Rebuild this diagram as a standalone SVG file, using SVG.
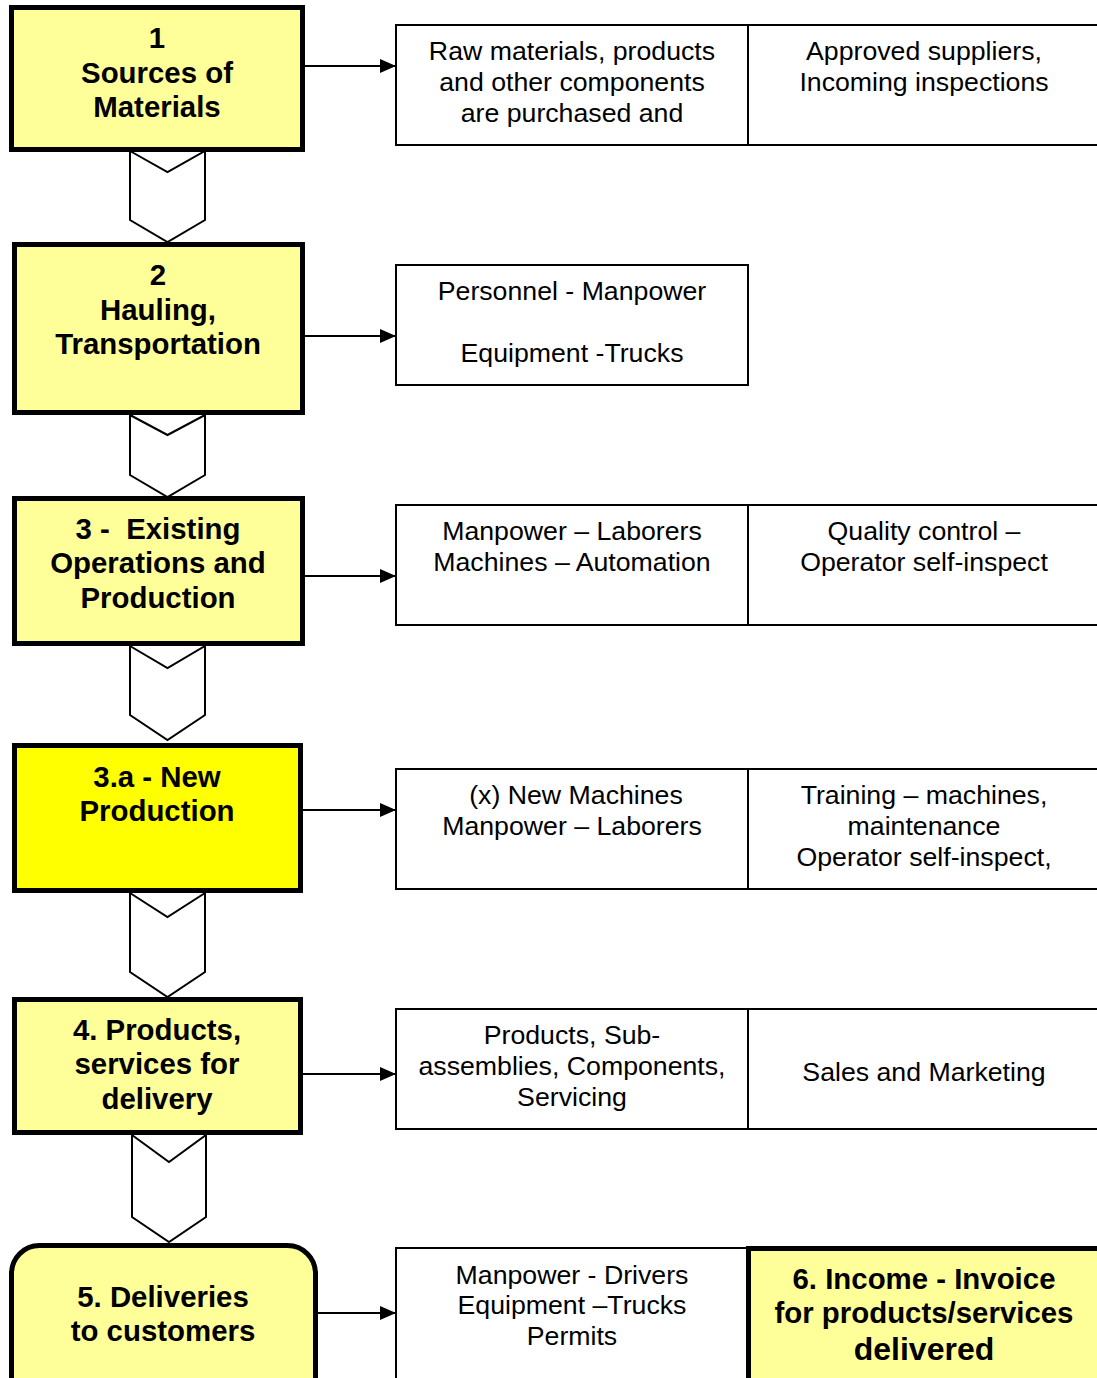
<svg xmlns="http://www.w3.org/2000/svg" width="1097" height="1378" viewBox="0 0 1097 1378">
<style>
.node{fill:#FFFF99;stroke:#000;stroke-width:5}
.hot{fill:#FFFF00}
.box{fill:#fff;stroke:#000;stroke-width:2}
.chev{fill:#fff;stroke:#000;stroke-width:2;stroke-linejoin:miter}
.lbl{font-family:"Liberation Sans",Arial,sans-serif;font-weight:bold;font-size:29.4px;text-anchor:middle;fill:#000}
.txt{font-family:"Liberation Sans",Arial,sans-serif;font-size:26.7px;text-anchor:middle;fill:#000}
.arr{stroke:#000;stroke-width:2;fill:none;marker-end:url(#ah)}
</style>
<defs>
<marker id="ah" markerWidth="16" markerHeight="14" refX="16" refY="7" orient="auto" markerUnits="userSpaceOnUse">
<path d="M0,0 L16,7 L0,14 Z" fill="#000"/>
</marker>
</defs>
<rect width="1097" height="1378" fill="#fff"/>

<g id="connectors">
<path class="chev" d="M130,151 L167.5,172 L205,151 L205,220 L167.5,242 L130,220 Z"/>
<path class="chev" d="M130,415 L167.5,435 L205,415 L205,475 L167.5,497 L130,475 Z"/>
<path class="chev" d="M130,646 L167.5,668 L205,646 L205,715 L167.5,740 L130,715 Z"/>
<path class="chev" d="M130,893 L167.5,917 L205,893 L205,972 L167.5,997 L130,972 Z"/>
<path class="chev" d="M132,1135 L169,1162 L206,1135 L206,1217 L169,1242 L132,1217 Z"/>
<line class="arr" x1="305" y1="66" x2="396" y2="66"/>
<line class="arr" x1="305" y1="336" x2="396" y2="336"/>
<line class="arr" x1="305" y1="576" x2="396" y2="576"/>
<line class="arr" x1="303" y1="810" x2="396" y2="810"/>
<line class="arr" x1="303" y1="1074" x2="396" y2="1074"/>
<line class="arr" x1="318" y1="1313" x2="396" y2="1313"/>
</g>

<g id="node1">
<rect class="node" x="11.5" y="7.5" width="291" height="142"/>
<text class="lbl" x="157" y="48">1</text>
<text class="lbl" x="157" y="83">Sources of</text>
<text class="lbl" x="157" y="117">Materials</text>
</g>
<g id="info1">
<rect class="box" x="396" y="25" width="352" height="120"/>
<rect class="box" x="748" y="25" width="352" height="120"/>
<text class="txt" x="572" y="60">Raw materials, products</text>
<text class="txt" x="572" y="91">and other components</text>
<text class="txt" x="572" y="122">are purchased and</text>
<text class="txt" x="924" y="60">Approved suppliers,</text>
<text class="txt" x="924" y="91">Incoming inspections</text>
</g>

<g id="node2">
<rect class="node" x="14.5" y="244.5" width="288" height="168"/>
<text class="lbl" x="158" y="285">2</text>
<text class="lbl" x="158" y="320">Hauling,</text>
<text class="lbl" x="158" y="354">Transportation</text>
</g>
<g id="info2">
<rect class="box" x="396" y="265" width="352" height="120"/>
<text class="txt" x="572" y="300">Personnel - Manpower</text>
<text class="txt" x="572" y="362">Equipment -Trucks</text>
</g>

<g id="node3">
<rect class="node" x="14.5" y="498.5" width="288" height="145"/>
<text class="lbl" x="158" y="539" xml:space="preserve">3 -  Existing</text>
<text class="lbl" x="158" y="573">Operations and</text>
<text class="lbl" x="158" y="608">Production</text>
</g>
<g id="info3">
<rect class="box" x="396" y="505" width="352" height="120"/>
<rect class="box" x="748" y="505" width="352" height="120"/>
<text class="txt" x="572" y="540">Manpower – Laborers</text>
<text class="txt" x="572" y="571">Machines – Automation</text>
<text class="txt" x="924" y="540">Quality control –</text>
<text class="txt" x="924" y="571">Operator self-inspect</text>
</g>

<g id="node3a">
<rect class="node hot" x="14.5" y="745.5" width="286" height="145"/>
<text class="lbl" x="157" y="787">3.a - New</text>
<text class="lbl" x="157" y="821">Production</text>
</g>
<g id="info3a">
<rect class="box" x="396" y="769" width="352" height="120"/>
<rect class="box" x="748" y="769" width="352" height="120"/>
<text class="txt" x="576" y="804">(x) New Machines</text>
<text class="txt" x="572" y="835">Manpower – Laborers</text>
<text class="txt" x="924" y="804">Training – machines,</text>
<text class="txt" x="924" y="835">maintenance</text>
<text class="txt" x="924" y="866">Operator self-inspect,</text>
</g>

<g id="node4">
<rect class="node" x="14.5" y="999.5" width="286" height="133"/>
<text class="lbl" x="157" y="1040">4. Products,</text>
<text class="lbl" x="157" y="1074">services for</text>
<text class="lbl" x="157" y="1109">delivery</text>
</g>
<g id="info4">
<rect class="box" x="396" y="1009" width="352" height="120"/>
<rect class="box" x="748" y="1009" width="352" height="120"/>
<text class="txt" x="572" y="1044">Products, Sub-</text>
<text class="txt" x="572" y="1075">assemblies, Components,</text>
<text class="txt" x="572" y="1106">Servicing</text>
<text class="txt" x="924" y="1081">Sales and Marketing</text>
</g>

<g id="node5">
<rect class="node" x="11.5" y="1245.5" width="304" height="170" rx="28" ry="28"/>
<text class="lbl" x="163" y="1307">5. Deliveries</text>
<text class="lbl" x="163" y="1341">to customers</text>
</g>
<g id="info5">
<rect class="box" x="396" y="1248" width="352" height="140"/>
<text class="txt" x="572" y="1284">Manpower - Drivers</text>
<text class="txt" x="572" y="1314">Equipment –Trucks</text>
<text class="txt" x="572" y="1345">Permits</text>
</g>

<g id="node6">
<rect class="node" x="748.5" y="1248.5" width="360" height="140"/>
<text class="lbl" x="924" y="1289">6. Income - Invoice</text>
<text class="lbl" x="924" y="1323">for products/services</text>
<text class="lbl" x="924" y="1360" style="font-size:32px">delivered</text>
</g>
</svg>
